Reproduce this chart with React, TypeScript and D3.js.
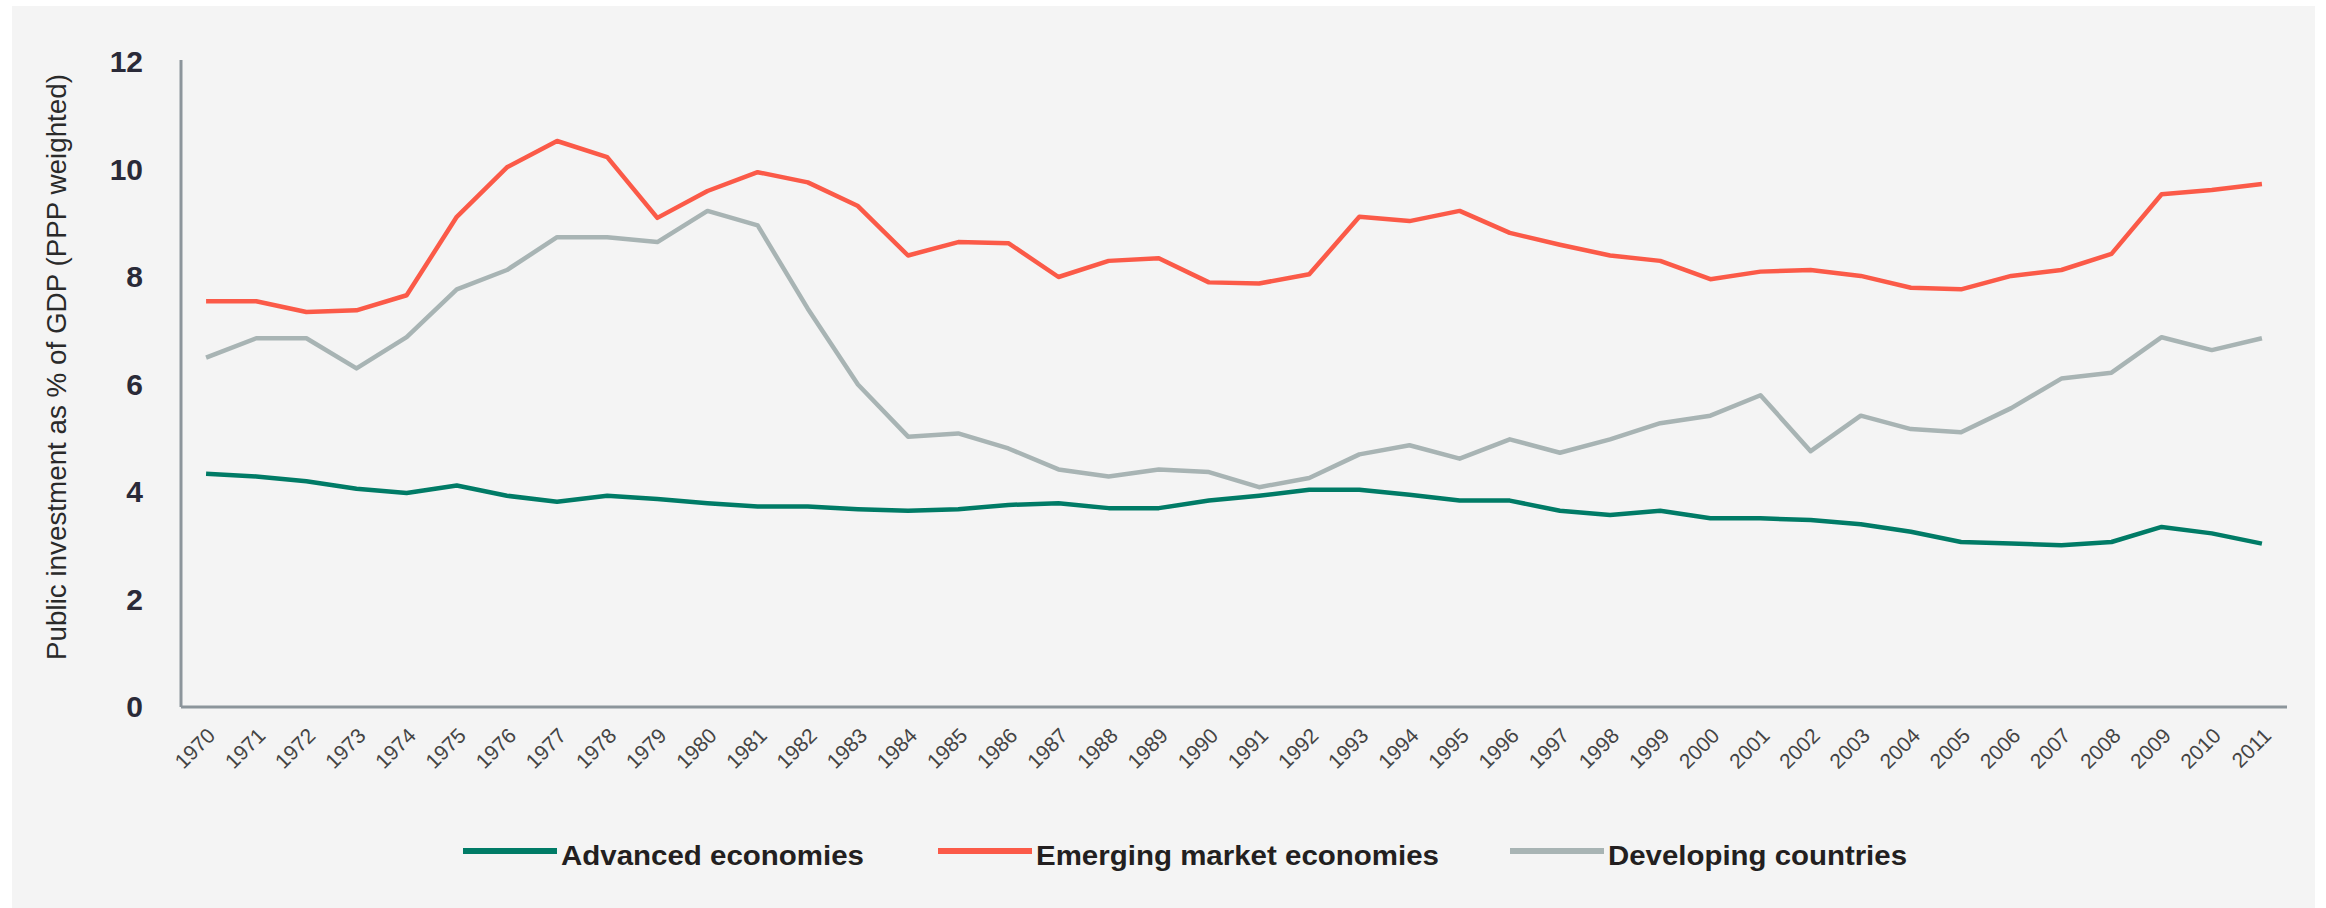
import React, { useEffect, useRef } from "react";
import { select, scaleLinear, scalePoint, line, axisBottom, axisLeft } from "d3";

const years = [
  "1970", "1971", "1972", "1973", "1974", "1975", "1976", "1977", "1978", "1979",
  "1980", "1981", "1982", "1983", "1984", "1985", "1986", "1987", "1988", "1989",
  "1990", "1991", "1992", "1993", "1994", "1995", "1996", "1997", "1998", "1999",
  "2000", "2001", "2002", "2003", "2004", "2005", "2006", "2007", "2008", "2009",
  "2010", "2011",
];

const advanced = [
  4.34, 4.29, 4.2, 4.06, 3.98, 4.12, 3.93, 3.82, 3.93, 3.87,
  3.79, 3.73, 3.73, 3.68, 3.65, 3.68, 3.76, 3.79, 3.7, 3.7,
  3.84, 3.93, 4.04, 4.04, 3.95, 3.84, 3.84, 3.65, 3.57, 3.65,
  3.51, 3.51, 3.48, 3.4, 3.26, 3.07, 3.04, 3.01, 3.07, 3.35,
  3.23, 3.04,
];

const emerging = [
  7.55, 7.55, 7.35, 7.38, 7.66, 9.12, 10.04, 10.53, 10.23, 9.1,
  9.6, 9.95, 9.76, 9.32, 8.4, 8.65, 8.63, 8.0, 8.3, 8.35,
  7.9, 7.88, 8.05, 9.12, 9.04, 9.23, 8.82, 8.6, 8.4, 8.3,
  7.96, 8.1, 8.13, 8.02, 7.8, 7.77, 8.02, 8.13, 8.43, 9.54,
  9.62, 9.73,
];

const developing = [
  6.5, 6.86, 6.86, 6.3, 6.88, 7.77, 8.13, 8.74, 8.74, 8.65,
  9.23, 8.96, 7.41, 6.0, 5.03, 5.09, 4.81, 4.42, 4.29, 4.42,
  4.37, 4.09, 4.26, 4.7, 4.87, 4.62, 4.98, 4.73, 4.98, 5.28,
  5.42, 5.8, 4.76, 5.42, 5.17, 5.11, 5.56, 6.11, 6.22, 6.88,
  6.64, 6.86,
];

const yTicks = [0, 2, 4, 6, 8, 10, 12];

const seriesNames = ["Advanced economies", "Emerging market economies", "Developing countries"];
const seriesColors = ["#007b66", "#fb5a48", "#a8b4b4"];

const W = 2326;
const H = 908;
const left = 181;
const right = 2287;
const bottom = 707;
const top = 62;

const App = () => {
  const svgRef = useRef<SVGSVGElement>(null);

  useEffect(() => {
    const svg = select(svgRef.current);
    const x = scalePoint<string>().domain(years).range([left, right]).padding(0.5);
    const y = scaleLinear().domain([0, 12]).range([bottom, top]);

    // y axis: line only, bold labels
    const yAxis = axisLeft(y).tickValues(yTicks).tickSize(0).tickPadding(38);
    const gy = svg.select<SVGGElement>(".y-axis").attr("transform", `translate(${left},0)`).call(yAxis);
    gy.select(".domain").attr("stroke", "#8c959b").attr("stroke-width", 3).attr("d", `M0,${top - 2}V${bottom}`);
    gy.selectAll("text")
      .attr("font-family", "Liberation Sans, Arial, sans-serif")
      .attr("font-weight", "bold")
      .attr("font-size", 30)
      .attr("fill", "#2a2a38");

    const xAxis = axisBottom(x).tickSize(0);
    const gx = svg.select<SVGGElement>(".x-axis").attr("transform", `translate(0,${bottom})`).call(xAxis);
    gx.select(".domain").attr("stroke", "#8c959b").attr("stroke-width", 3).attr("d", `M${left},0H${right}`);
    gx.selectAll("text")
      .attr("font-family", "Liberation Sans, Arial, sans-serif")
      .attr("font-size", 21)
      .attr("fill", "#444")
      .attr("text-anchor", "end")
      .attr("x", 0)
      .attr("y", 0)
      .attr("dy", 0)
      .attr("transform", "translate(10,30) rotate(-45)");

    const seriesData = [advanced, emerging, developing];
    const lineGen = line<number>()
      .x((d, i) => x(years[i]) as number)
      .y((d) => y(d));

    svg
      .select(".lines")
      .selectAll("path")
      .data(seriesData)
      .join("path")
      .attr("d", (d) => lineGen(d))
      .attr("fill", "none")
      .attr("stroke", (d, i) => seriesColors[i])
      .attr("stroke-width", 4.5)
      .attr("stroke-linejoin", "round");

    // legend
    const legendX = [463, 938, 1510];
    const legendLen = [303, 403, 299];
    const lg = svg
      .select(".legend")
      .selectAll("g")
      .data(seriesNames)
      .join("g")
      .attr("transform", (d, i) => `translate(${legendX[i]},851)`);
    lg.selectAll("line")
      .data((d, i) => [i])
      .join("line")
      .attr("x1", 0)
      .attr("x2", 94)
      .attr("stroke", (i) => seriesColors[i])
      .attr("stroke-width", 6);
    lg.selectAll("text")
      .data((d, i) => [i])
      .join("text")
      .attr("x", 98)
      .attr("y", 14)
      .attr("font-family", "Liberation Sans Narrow, Arial Narrow, Liberation Sans, Arial, sans-serif")
      .attr("font-weight", "bold")
      .attr("font-size", 28)
      .attr("fill", "#231f20")
      .attr("textLength", (i) => legendLen[i])
      .attr("lengthAdjust", "spacingAndGlyphs")
      .text((i) => seriesNames[i]);
  }, []);

  return (
    <svg ref={svgRef} width={W} height={H} style={{ display: "block", position: "absolute", left: 0, top: 0 }}>
      <rect x={0} y={0} width={W} height={H} fill="#ffffff" />
      <rect x={12} y={6} width={2303} height={902} fill="#f4f4f4" />
      <text
        transform="translate(66,367) rotate(-90)"
        textAnchor="middle"
        fontFamily="Liberation Sans Narrow, Arial Narrow, Liberation Sans, Arial, sans-serif"
        fontSize={27}
        fill="#2a2a2a"
        textLength={586}
        lengthAdjust="spacingAndGlyphs"
      >
        Public investment  as % of GDP (PPP weighted)
      </text>
      <g className="lines" />
      <g className="y-axis" />
      <g className="x-axis" />
      <g className="legend" />
    </svg>
  );
};

export default App;
